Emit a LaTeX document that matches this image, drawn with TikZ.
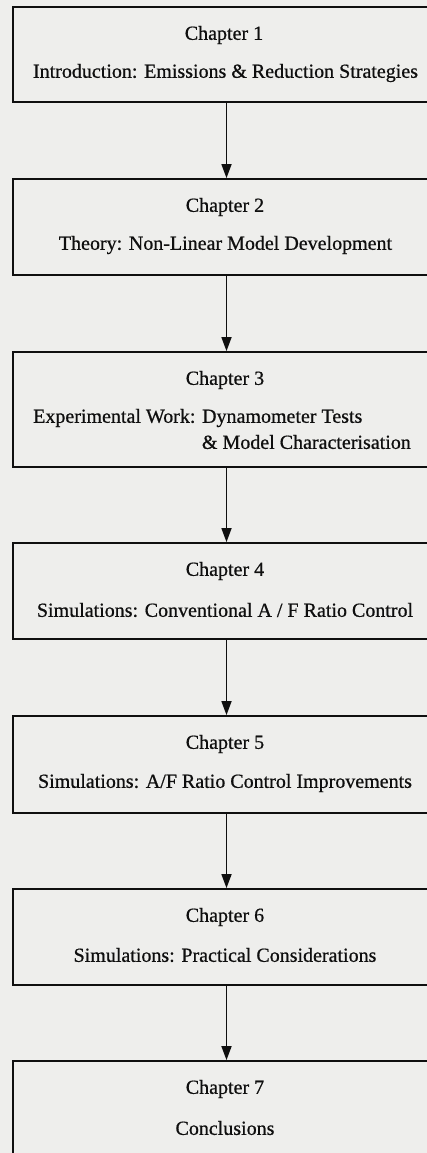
\documentclass[tikz,border=0pt]{standalone}
\usepackage{fontspec}
\setmainfont{Liberation Serif}
\newfontfamily\scanfont[FakeBold=0.7]{Liberation Serif}
\usetikzlibrary{arrows.meta}
\definecolor{paper}{RGB}{238,238,236}
\definecolor{ink}{RGB}{15,15,15}
\tikzset{
  chbox/.style={draw=ink, line width=1.8pt, minimum width=427pt, inner sep=0pt, fill=paper},
  chtext/.style={text=ink, inner sep=0pt, font=\scanfont\fontsize{20}{24}\selectfont},
  flow/.style={draw=ink, line width=1.7pt, -{Triangle[length=14pt,width=10pt]}}
}
\begin{document}
\begin{tikzpicture}[x=1pt,y=-1pt]
\useasboundingbox (0,0) rectangle (427,1153);
\fill[paper] (0,0) rectangle (427,1153);
\clip (0,0) rectangle (427,1153);
% boxes
\node[chbox, minimum height=95pt]  (b1) at (226.5,54.5) {};
\node[chbox, minimum height=96pt]  (b2) at (226.5,227) {};
\node[chbox, minimum height=115pt] (b3) at (226.5,409.5) {};
\node[chbox, minimum height=96pt]  (b4) at (226.5,591) {};
\node[chbox, minimum height=97pt]  (b5) at (226.5,764.5) {};
\node[chbox, minimum height=96pt]  (b6) at (226.5,937) {};
\node[chbox, minimum height=130pt] (b7) at (226.5,1126) {};
% texts
\node[chtext] (t1a) at (224,35) {Chapter 1};
\node[chtext] (t1b) at (225.5,73) {Introduction: Emissions \& Reduction Strategies};
\node[chtext] (t2a) at (225,207) {Chapter 2};
\node[chtext] (t2b) at (225.5,245) {Theory: Non-Linear Model Development};
\node[chtext] (t3a) at (225,380) {Chapter 3};
\node[chtext, anchor=west] (t3b) at (33,418) {Experimental Work: Dynamometer Tests};
\node[chtext, anchor=east] (t3c) at (411,442) {\& Model Characterisation};
\node[chtext] (t4a) at (225,571) {Chapter 4};
\node[chtext] (t4b) at (225,610) {Simulations: Conventional A / F Ratio Control};
\node[chtext] (t5a) at (225,744) {Chapter 5};
\node[chtext] (t5b) at (225,783) {Simulations: A/F Ratio Control Improvements};
\node[chtext] (t6a) at (225,917) {Chapter 6};
\node[chtext] (t6b) at (225,955) {Simulations: Practical Considerations};
\node[chtext] (t7a) at (225,1089) {Chapter 7};
\node[chtext] (t7b) at (225,1128) {Conclusions};
% arrows
\draw[flow] (b1.south) -- (b2.north);
\draw[flow] (b2.south) -- (b3.north);
\draw[flow] (b3.south) -- (b4.north);
\draw[flow] (b4.south) -- (b5.north);
\draw[flow] (b5.south) -- (b6.north);
\draw[flow] (b6.south) -- (b7.north);
\end{tikzpicture}
\end{document}
